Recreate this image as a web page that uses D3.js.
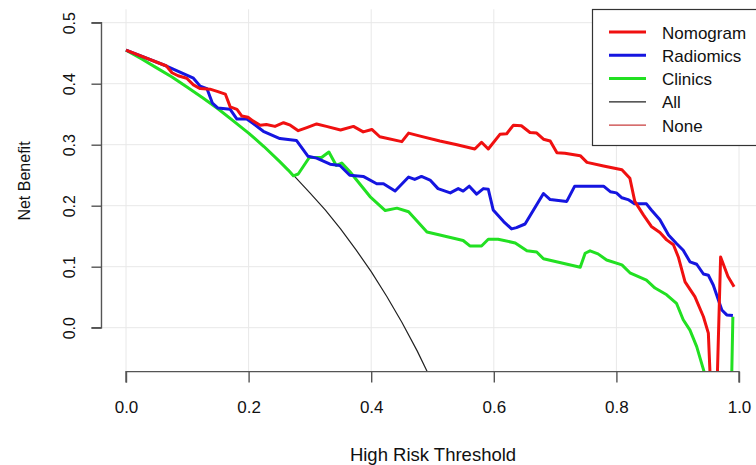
<!DOCTYPE html>
<html>
<head>
<meta charset="utf-8">
<script src="https://cdn.jsdelivr.net/npm/d3@7"></script>
<style>
  body { margin: 0; background: #fff; }
  text { font-family: Arial, 'Liberation Sans', sans-serif; fill: #111; }
</style>
</head>
<body>
<div id="chart"></div>
<script>
'use strict';

// Decision curves: [threshold, net benefit]
var nomogram = [
  [ 0, 0.455 ], [ 0.066, 0.429 ], [ 0.075, 0.418 ], [ 0.085, 0.413 ], [ 0.099, 0.409 ],
  [ 0.110, 0.398 ], [ 0.121, 0.392 ], [ 0.137, 0.391 ], [ 0.150, 0.387 ], [ 0.162, 0.383 ],
  [ 0.170, 0.362 ], [ 0.181, 0.358 ], [ 0.189, 0.347 ], [ 0.199, 0.345 ], [ 0.207, 0.339 ],
  [ 0.219, 0.332 ], [ 0.229, 0.333 ], [ 0.243, 0.330 ], [ 0.257, 0.336 ], [ 0.268, 0.332 ],
  [ 0.281, 0.323 ], [ 0.295, 0.328 ], [ 0.311, 0.334 ], [ 0.327, 0.330 ], [ 0.350, 0.324 ],
  [ 0.371, 0.330 ], [ 0.387, 0.321 ], [ 0.401, 0.325 ], [ 0.414, 0.313 ], [ 0.450, 0.305 ],
  [ 0.461, 0.319 ], [ 0.480, 0.314 ], [ 0.512, 0.306 ], [ 0.540, 0.300 ], [ 0.569, 0.293 ],
  [ 0.580, 0.304 ], [ 0.591, 0.293 ], [ 0.610, 0.317 ], [ 0.621, 0.318 ], [ 0.632, 0.332 ],
  [ 0.645, 0.331 ], [ 0.659, 0.320 ], [ 0.670, 0.319 ], [ 0.681, 0.309 ], [ 0.692, 0.306 ],
  [ 0.703, 0.287 ], [ 0.716, 0.286 ], [ 0.741, 0.282 ], [ 0.752, 0.271 ], [ 0.779, 0.265 ],
  [ 0.809, 0.259 ], [ 0.822, 0.245 ], [ 0.830, 0.207 ], [ 0.844, 0.185 ], [ 0.857, 0.166 ],
  [ 0.871, 0.156 ], [ 0.882, 0.144 ], [ 0.893, 0.136 ], [ 0.901, 0.116 ], [ 0.912, 0.075 ],
  [ 0.928, 0.051 ], [ 0.942, 0.018 ], [ 0.950, -0.009 ], [ 0.960, -0.250 ], [ 0.970, 0.116 ],
  [ 0.982, 0.084 ], [ 0.992, 0.067 ]
];

var radiomics = [
  [ 0, 0.455 ], [ 0.066, 0.429 ], [ 0.110, 0.409 ], [ 0.121, 0.396 ], [ 0.132, 0.392 ],
  [ 0.141, 0.368 ], [ 0.150, 0.360 ], [ 0.170, 0.358 ], [ 0.181, 0.342 ], [ 0.197, 0.342 ],
  [ 0.207, 0.335 ], [ 0.224, 0.322 ], [ 0.251, 0.310 ], [ 0.278, 0.307 ], [ 0.297, 0.281 ],
  [ 0.311, 0.278 ], [ 0.333, 0.268 ], [ 0.349, 0.266 ], [ 0.365, 0.250 ], [ 0.387, 0.248 ],
  [ 0.409, 0.236 ], [ 0.420, 0.236 ], [ 0.439, 0.224 ], [ 0.461, 0.247 ], [ 0.471, 0.243 ],
  [ 0.482, 0.248 ], [ 0.496, 0.242 ], [ 0.509, 0.228 ], [ 0.529, 0.221 ], [ 0.542, 0.228 ],
  [ 0.550, 0.224 ], [ 0.560, 0.232 ], [ 0.572, 0.219 ], [ 0.583, 0.228 ], [ 0.591, 0.227 ],
  [ 0.599, 0.193 ], [ 0.616, 0.174 ], [ 0.629, 0.162 ], [ 0.637, 0.164 ], [ 0.651, 0.170 ],
  [ 0.681, 0.220 ], [ 0.692, 0.210 ], [ 0.719, 0.207 ], [ 0.732, 0.232 ], [ 0.779, 0.232 ],
  [ 0.790, 0.223 ], [ 0.800, 0.221 ], [ 0.809, 0.213 ], [ 0.819, 0.210 ], [ 0.830, 0.203 ],
  [ 0.849, 0.203 ], [ 0.857, 0.193 ], [ 0.871, 0.177 ], [ 0.885, 0.152 ], [ 0.898, 0.138 ],
  [ 0.909, 0.127 ], [ 0.920, 0.108 ], [ 0.931, 0.104 ], [ 0.942, 0.088 ], [ 0.950, 0.086 ],
  [ 0.958, 0.070 ], [ 0.972, 0.029 ], [ 0.980, 0.021 ], [ 0.990, 0.020 ]
];

var clinics = [
  [ 0, 0.455 ], [ 0.025, 0.441 ], [ 0.05, 0.426 ], [ 0.075, 0.411 ], [ 0.1, 0.394 ],
  [ 0.125, 0.377 ], [ 0.15, 0.359 ], [ 0.175, 0.339 ], [ 0.2, 0.319 ], [ 0.225, 0.297 ],
  [ 0.25, 0.273 ], [ 0.265, 0.258 ], [ 0.273, 0.249 ], [ 0.281, 0.252 ], [ 0.299, 0.279 ],
  [ 0.319, 0.279 ], [ 0.331, 0.288 ], [ 0.343, 0.266 ], [ 0.352, 0.270 ], [ 0.365, 0.256 ],
  [ 0.398, 0.215 ], [ 0.423, 0.192 ], [ 0.442, 0.196 ], [ 0.461, 0.190 ], [ 0.491, 0.157 ],
  [ 0.512, 0.152 ], [ 0.550, 0.143 ], [ 0.561, 0.134 ], [ 0.580, 0.134 ], [ 0.591, 0.145 ],
  [ 0.607, 0.145 ], [ 0.635, 0.139 ], [ 0.654, 0.126 ], [ 0.670, 0.124 ], [ 0.681, 0.113 ],
  [ 0.741, 0.099 ], [ 0.749, 0.122 ], [ 0.757, 0.126 ], [ 0.770, 0.121 ], [ 0.784, 0.111 ],
  [ 0.809, 0.103 ], [ 0.822, 0.090 ], [ 0.849, 0.078 ], [ 0.863, 0.065 ], [ 0.882, 0.054 ],
  [ 0.898, 0.040 ], [ 0.909, 0.013 ], [ 0.920, -0.004 ], [ 0.931, -0.031 ], [ 0.943, -0.072 ],
  [ 0.960, -0.300 ], [ 0.980, -0.500 ], [ 0.990, 0.018 ]
];

var treatAll = [
  [ 0, 0.455 ], [ 0.025, 0.441 ], [ 0.05, 0.426 ], [ 0.075, 0.411 ], [ 0.1, 0.394 ],
  [ 0.125, 0.377 ], [ 0.15, 0.359 ], [ 0.175, 0.339 ], [ 0.2, 0.319 ], [ 0.225, 0.297 ],
  [ 0.25, 0.273 ], [ 0.275, 0.248 ], [ 0.3, 0.221 ], [ 0.325, 0.193 ], [ 0.35, 0.162 ],
  [ 0.375, 0.128 ], [ 0.4, 0.092 ], [ 0.425, 0.052 ], [ 0.45, 0.009 ], [ 0.475, -0.038 ],
  [ 0.5, -0.090 ]
];

var xTicks = [ 0, 0.2, 0.4, 0.6, 0.8, 1.0 ];
var yTicks = [ 0, 0.1, 0.2, 0.3, 0.4, 0.5 ];

var legendLabels = [ 'Nomogram', 'Radiomics', 'Clinics', 'All', 'None' ];
var legendColors = [ '#f01010', '#1515e0', '#22e022', '#222222', '#c83c3c' ];
var legendWidths = [ 3, 3, 3, 1.2, 1.2 ];

var width = 756;
var height = 465;

var x = d3.scaleLinear().domain( [ 0, 1 ] ).range( [ 126, 739 ] );
var y = d3.scaleLinear().domain( [ 0, 0.5 ] ).range( [ 327.7, 22.7 ] );

// Plot region (R usr extents)
var plotLeft = x( -0.04 );
var plotRight = x( 1.04 );
var plotTop = y( 0.522 );
var plotBottom = y( -0.072 );

var svg = d3.select( '#chart' ).append( 'svg' )
  .attr( 'width', width )
  .attr( 'height', height );

svg.append( 'defs' ).append( 'clipPath' )
  .attr( 'id', 'plot-clip' )
  .append( 'rect' )
  .attr( 'x', plotLeft )
  .attr( 'y', plotTop )
  .attr( 'width', plotRight - plotLeft )
  .attr( 'height', plotBottom - plotTop );

//
// GRID
//

var grid = svg.append( 'g' ).attr( 'class', 'grid' );

grid.selectAll( 'line.h' )
  .data( yTicks )
  .enter().append( 'line' )
  .attr( 'class', 'h' )
  .attr( 'x1', plotLeft )
  .attr( 'x2', plotRight )
  .attr( 'y1', function( d ) { return y( d ); } )
  .attr( 'y2', function( d ) { return y( d ); } )
  .attr( 'stroke', '#e8e8e8' )
  .attr( 'stroke-width', 1 );

grid.selectAll( 'line.v' )
  .data( xTicks )
  .enter().append( 'line' )
  .attr( 'class', 'v' )
  .attr( 'x1', function( d ) { return x( d ); } )
  .attr( 'x2', function( d ) { return x( d ); } )
  .attr( 'y1', plotTop )
  .attr( 'y2', plotBottom )
  .attr( 'stroke', '#e8e8e8' )
  .attr( 'stroke-width', 1 );

//
// CURVES
//

var line = d3.line()
  .x( function( d ) { return x( d[ 0 ] ); } )
  .y( function( d ) { return y( d[ 1 ] ); } );

var curves = svg.append( 'g' ).attr( 'clip-path', 'url(#plot-clip)' );

var series = [
  { data: treatAll, color: legendColors[ 3 ], w: legendWidths[ 3 ] },
  { data: clinics, color: legendColors[ 2 ], w: legendWidths[ 2 ] },
  { data: radiomics, color: legendColors[ 1 ], w: legendWidths[ 1 ] },
  { data: nomogram, color: legendColors[ 0 ], w: legendWidths[ 0 ] }
];

curves.selectAll( 'path' )
  .data( series )
  .enter().append( 'path' )
  .attr( 'd', function( d ) { return line( d.data ); } )
  .attr( 'fill', 'none' )
  .attr( 'stroke', function( d ) { return d.color; } )
  .attr( 'stroke-width', function( d ) { return d.w; } )
  .attr( 'stroke-linejoin', 'round' );

// Green curve is drawn over the "All" line in the original, keep clinics on top of it
curves.selectAll( 'path' ).filter( function( d ) { return d.data === clinics; } ).raise();
curves.selectAll( 'path' ).filter( function( d ) { return d.data === radiomics; } ).raise();
curves.selectAll( 'path' ).filter( function( d ) { return d.data === nomogram; } ).raise();

//
// AXES
//

var xAxis = svg.append( 'g' )
  .attr( 'transform', 'translate(0,' + plotBottom + ')' )
  .call( d3.axisBottom( x ).tickValues( xTicks ).tickSize( 11 ).tickFormat( d3.format( '.1f' ) ) );

var yAxis = svg.append( 'g' )
  .attr( 'transform', 'translate(' + plotLeft + ',0)' )
  .call( d3.axisLeft( y ).tickValues( yTicks ).tickSize( 10 ).tickFormat( d3.format( '.1f' ) ) );

[ xAxis, yAxis ].forEach( function( a ) {
  a.select( '.domain' ).attr( 'stroke', '#555' ).attr( 'stroke-width', 1.4 );
  a.selectAll( '.tick line' ).attr( 'stroke', '#555' ).attr( 'stroke-width', 1.4 );
  a.selectAll( 'text' ).attr( 'fill', '#111' ).style( 'font-family', 'Arial, "Liberation Sans", sans-serif' );
} );

// R draws the axis line only between the first and last ticks
xAxis.select( '.domain' ).attr( 'd', 'M' + x( 0 ) + ',11V0H' + x( 1 ) + 'V11' );
yAxis.select( '.domain' ).attr( 'd', 'M-10,' + y( 0 ) + 'H0V' + y( 0.5 ) + 'H-10' );

xAxis.selectAll( 'text' )
  .attr( 'y', 0 )
  .attr( 'dy', 0 )
  .attr( 'transform', 'translate(0,41)' )
  .style( 'font-size', '17px' );

yAxis.selectAll( '.tick text' )
  .attr( 'x', 0 )
  .attr( 'dy', 0 )
  .attr( 'text-anchor', 'middle' )
  .attr( 'transform', 'translate(' + ( 74.5 - plotLeft ) + ',0) rotate(-90)' )
  .style( 'font-size', '16px' );

// Axis titles
svg.append( 'text' )
  .attr( 'x', 433 )
  .attr( 'y', 461 )
  .attr( 'text-anchor', 'middle' )
  .style( 'font-size', '18.5px' )
  .text( 'High Risk Threshold' );

svg.append( 'text' )
  .attr( 'transform', 'translate(30,181) rotate(-90)' )
  .attr( 'text-anchor', 'middle' )
  .style( 'font-size', '16px' )
  .text( 'Net Benefit' );

//
// LEGEND
//

var legend = svg.append( 'g' ).attr( 'class', 'legend' );

legend.append( 'rect' )
  .attr( 'x', 592.5 )
  .attr( 'y', 9.5 )
  .attr( 'width', 200 )
  .attr( 'height', 136 )
  .attr( 'fill', '#fff' )
  .attr( 'stroke', '#333' )
  .attr( 'stroke-width', 1.2 );

var rows = legend.selectAll( 'g.row' )
  .data( legendLabels )
  .enter().append( 'g' )
  .attr( 'class', 'row' )
  .attr( 'transform', function( d, i ) {
    return 'translate(0,' + ( 32 + i * 23.3 ) + ')';
  } );

rows.append( 'line' )
  .attr( 'x1', 609 )
  .attr( 'x2', 646 )
  .attr( 'stroke', function( d, i ) { return legendColors[ i ]; } )
  .attr( 'stroke-width', function( d, i ) { return legendWidths[ i ]; } );

rows.append( 'text' )
  .attr( 'x', 662 )
  .attr( 'y', 6.5 )
  .style( 'font-size', '17px' )
  .text( function( d ) { return d; } );
</script>
</body>
</html>
